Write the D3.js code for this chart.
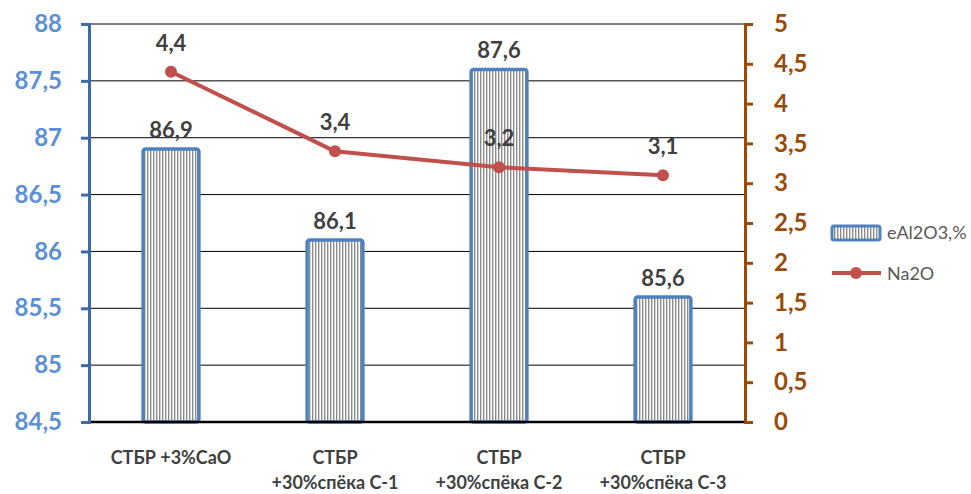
<!DOCTYPE html>
<html>
<head>
<meta charset="utf-8">
<script src="https://cdn.jsdelivr.net/npm/d3@7/dist/d3.min.js"></script>
<style>
  html, body { margin: 0; padding: 0; background: #fff; }
  svg { display: block; }
</style>
</head>
<body>
<svg id="chart" width="971" height="494"></svg>
<script>
// Categories (two-line labels)
const categories = ["c1", "c2", "c3", "c4"];
const categoryLines = [
  ["СТБР  +3%CaO"],
  ["СТБР", "+30%спёка  С-1"],
  ["СТБР", "+30%спёка  С-2"],
  ["СТБР", "+30%спёка  С-3"]
];
// Series
const al2o3 = [86.9, 86.1, 87.6, 85.6];
const na2o = [4.4, 3.4, 3.2, 3.1];
// Axis ticks
const leftTicks = [84.5, 85, 85.5, 86, 86.5, 87, 87.5, 88];
const rightTicks = [0, 0.5, 1, 1.5, 2, 2.5, 3, 3.5, 4, 4.5, 5];
const seriesNames = ["eAl2O3,%", "Na2O"];

const fmt = v => String(v).replace(".", ",");
const FONT = "Lato, 'Open Sans', sans-serif";

const svg = d3.select("#chart");
const plotL = 89, plotR = 745, plotT = 24, plotB = 422;

const x = d3.scaleBand().domain(categories).range([plotL, plotR]).paddingInner(0.66).paddingOuter(0.33);
const yL = d3.scaleLinear().domain([84.5, 88]).range([plotB, plotT]);
const yR = d3.scaleLinear().domain([0, 5]).range([plotB, plotT]);

// Striped fill for bars
const defs = svg.append("defs");
const pat = defs.append("pattern").attr("id", "stripes").attr("patternUnits", "userSpaceOnUse")
  .attr("width", 3).attr("height", 10);
pat.append("rect").attr("width", 3).attr("height", 10).attr("fill", "#fff");
pat.append("rect").attr("width", 1.4).attr("height", 10).attr("fill", "#8c8c8c");

// Gridlines
svg.append("g").selectAll("line").data(leftTicks.slice(1)).join("line")
  .attr("x1", plotL).attr("x2", plotR)
  .attr("y1", d => yL(d)).attr("y2", d => yL(d))
  .attr("stroke", "#000").attr("stroke-width", 1);

// Bars
const bw = x.bandwidth();
svg.append("g").selectAll("rect").data(al2o3).join("rect")
  .attr("x", (d, i) => x(categories[i]))
  .attr("y", d => yL(d))
  .attr("width", bw)
  .attr("height", d => plotB - yL(d))
  .attr("rx", 2.5)
  .attr("fill", "url(#stripes)")
  .attr("stroke", "#4f81bd").attr("stroke-width", 3.5);

// Category axis line
svg.append("line").attr("x1", plotL).attr("x2", plotR).attr("y1", plotB).attr("y2", plotB)
  .attr("stroke", "#000").attr("stroke-width", 2.5);

// Left axis
const gL = svg.append("g").attr("transform", `translate(${plotL},0)`)
  .call(d3.axisLeft(yL).tickValues(leftTicks).tickSize(8).tickFormat(fmt));
gL.select(".domain").attr("stroke", "#3d6aa5").attr("stroke-width", 3);
gL.selectAll(".tick line").attr("stroke", "#3d6aa5").attr("stroke-width", 3);
gL.selectAll("text").attr("x", -27).attr("fill", "#5b8fd6").attr("font-family", FONT)
  .attr("font-weight", "bold").attr("font-size", 24);

// Right axis
const gR = svg.append("g").attr("transform", `translate(${plotR},0)`)
  .call(d3.axisRight(yR).tickValues(rightTicks).tickSize(8).tickFormat(fmt));
gR.select(".domain").attr("stroke", "#9a4a08").attr("stroke-width", 3);
gR.selectAll(".tick line").attr("stroke", "#9a4a08").attr("stroke-width", 3);
gR.selectAll("text").attr("x", 29).attr("fill", "#9a4a08").attr("font-family", FONT)
  .attr("font-weight", "bold").attr("font-size", 24);

// Category labels
const cx = i => x(categories[i]) + bw / 2;
const catG = svg.append("g").attr("font-family", FONT).style("white-space", "pre")
  .attr("font-weight", "bold").attr("font-size", 18).attr("fill", "#404040").attr("text-anchor", "middle");
categoryLines.forEach((lines, i) => {
  lines.forEach((t, j) => {
    catG.append("text").attr("x", cx(i)).attr("y", 464 + j * 25).text(t);
  });
});

// Na2O line
const line = d3.line().x((d, i) => cx(i)).y(d => yR(d));
svg.append("path").datum(na2o).attr("d", line)
  .attr("fill", "none").attr("stroke", "#c0504d").attr("stroke-width", 4).attr("stroke-linejoin", "round");
svg.append("g").selectAll("circle").data(na2o).join("circle")
  .attr("cx", (d, i) => cx(i)).attr("cy", d => yR(d)).attr("r", 6).attr("fill", "#c0504d");

// Value labels
const lab = svg.append("g").attr("font-family", FONT)
  .attr("font-weight", "bold").attr("font-size", 22).attr("fill", "#404040").attr("text-anchor", "middle");
al2o3.forEach((d, i) => {
  lab.append("text").attr("x", cx(i)).attr("y", yL(d) - 11).text(fmt(d));
});
na2o.forEach((d, i) => {
  lab.append("text").attr("x", cx(i)).attr("y", yR(d) - 21).text(fmt(d));
});

// Legend
const lg = svg.append("g");
lg.append("rect").attr("x", 832).attr("y", 226).attr("width", 48).attr("height", 14).attr("rx", 2)
  .attr("fill", "url(#stripes)").attr("stroke", "#4f81bd").attr("stroke-width", 3);
lg.append("line").attr("x1", 832).attr("x2", 881).attr("y1", 273).attr("y2", 273)
  .attr("stroke", "#c0504d").attr("stroke-width", 4);
lg.append("circle").attr("cx", 856).attr("cy", 273).attr("r", 6).attr("fill", "#c0504d");
lg.selectAll("text").data(seriesNames).join("text")
  .attr("x", 887).attr("y", (d, i) => 239 + i * 41)
  .attr("font-family", FONT).attr("font-size", 18).attr("fill", "#595959")
  .text(d => d);
</script>
</body>
</html>
